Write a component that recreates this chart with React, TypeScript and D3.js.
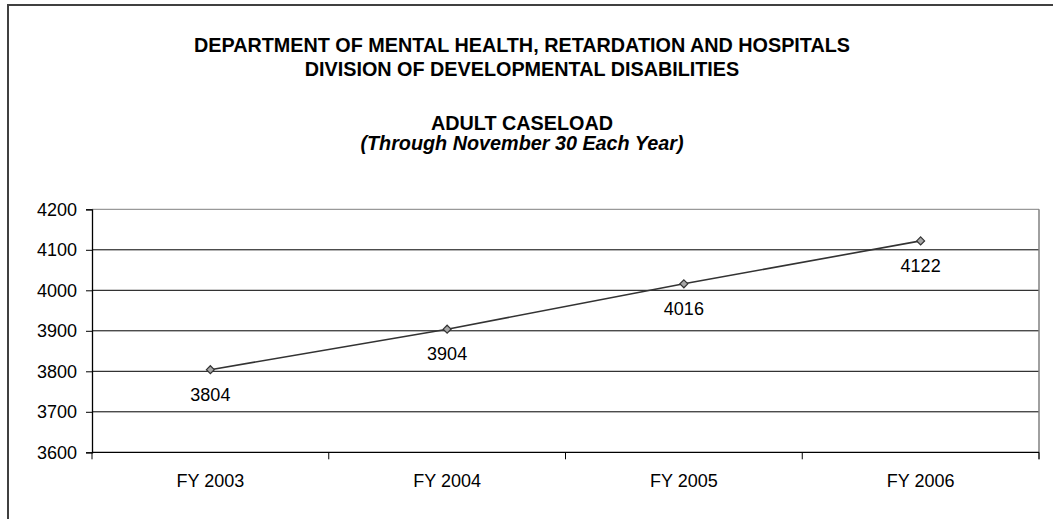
import { useEffect, useRef } from 'react'
import * as d3 from 'd3'

const CATEGORIES = ['FY 2003', 'FY 2004', 'FY 2005', 'FY 2006']
const CASELOAD = [3804, 3904, 4016, 4122]
const Y_TICKS = [3600, 3700, 3800, 3900, 4000, 4100, 4200]

const TITLE_LINES = [
  'DEPARTMENT OF MENTAL HEALTH, RETARDATION AND HOSPITALS',
  'DIVISION OF DEVELOPMENTAL DISABILITIES',
]
const SUBTITLE = 'ADULT CASELOAD'
const SUBTITLE_NOTE = '(Through November 30 Each Year)'

const WIDTH = 1053
const HEIGHT = 519
const FONT = '"Liberation Sans", Arial, sans-serif'

export default function App() {
  const svgRef = useRef<SVGSVGElement>(null)

  useEffect(() => {
    if (!svgRef.current) return
    const svg = d3.select(svgRef.current)
    svg.selectAll('*').remove()

    const plot = { left: 92, right: 1039, top: 209.3, bottom: 452.3 }

    // outer chart frame (right and bottom edges run off the page)
    svg.append('rect')
      .attr('x', 8)
      .attr('y', 5)
      .attr('width', WIDTH + 20)
      .attr('height', HEIGHT + 20)
      .attr('fill', '#fff')
      .attr('stroke', '#404040')
      .attr('stroke-width', 2)

    // titles
    const titleX = 522
    const titleY = [51.5, 76]
    TITLE_LINES.forEach((t, i) => {
      svg.append('text')
        .attr('x', titleX)
        .attr('y', titleY[i])
        .attr('text-anchor', 'middle')
        .attr('font-family', FONT)
        .attr('font-size', 19.8)
        .attr('font-weight', 'bold')
        .attr('fill', '#000')
        .text(t)
    })
    svg.append('text')
      .attr('x', titleX)
      .attr('y', 129.5)
      .attr('text-anchor', 'middle')
      .attr('font-family', FONT)
      .attr('font-size', 19.8)
      .attr('font-weight', 'bold')
      .text(SUBTITLE)
    svg.append('text')
      .attr('x', titleX)
      .attr('y', 150)
      .attr('text-anchor', 'middle')
      .attr('font-family', FONT)
      .attr('font-size', 19.8)
      .attr('font-weight', 'bold')
      .attr('font-style', 'italic')
      .text(SUBTITLE_NOTE)

    const x = d3.scaleBand().domain(CATEGORIES).range([plot.left, plot.right])
    const y = d3.scaleLinear().domain([3600, 4200]).range([plot.bottom, plot.top])

    // gridlines
    svg.append('g')
      .selectAll('line')
      .data(Y_TICKS.slice(1))
      .enter()
      .append('line')
      .attr('x1', plot.left)
      .attr('x2', plot.right)
      .attr('y1', d => y(d))
      .attr('y2', d => y(d))
      .attr('stroke', d => (d === 4200 ? '#808080' : '#000'))
      .attr('stroke-width', 1)

    // right plot border
    svg.append('line')
      .attr('x1', plot.right)
      .attr('x2', plot.right)
      .attr('y1', plot.top)
      .attr('y2', plot.bottom + 7)
      .attr('stroke', '#808080')
      .attr('stroke-width', 1.5)

    // y axis
    const yAxis = d3.axisLeft(y).tickValues(Y_TICKS).tickSize(6).tickPadding(9).tickFormat(d3.format('d'))
    const yg = svg.append('g').attr('transform', `translate(${plot.left},0)`).call(yAxis)
    yg.select('.domain').attr('stroke', '#000').attr('stroke-width', 1.3)
    yg.selectAll('.tick line').attr('stroke', '#000')
    yg.selectAll('.tick text')
      .attr('font-family', FONT)
      .attr('font-size', 18)
      .attr('fill', '#000')

    // x axis with ticks between categories
    const xg = svg.append('g').attr('transform', `translate(0,${plot.bottom})`)
    xg.append('line')
      .attr('x1', plot.left)
      .attr('x2', plot.right)
      .attr('stroke', '#000')
      .attr('stroke-width', 1.3)
    const bounds = CATEGORIES.map(c => x(c) as number).concat([plot.right])
    xg.selectAll('line.tick')
      .data(bounds)
      .enter()
      .append('line')
      .attr('class', 'tick')
      .attr('x1', d => d)
      .attr('x2', d => d)
      .attr('y1', 0)
      .attr('y2', 7)
      .attr('stroke', '#000')
    xg.selectAll('text')
      .data(CATEGORIES)
      .enter()
      .append('text')
      .attr('x', d => (x(d) as number) + x.bandwidth() / 2)
      .attr('y', 35)
      .attr('text-anchor', 'middle')
      .attr('font-family', FONT)
      .attr('font-size', 18)
      .text(d => d)

    const cx = (i: number) => (x(CATEGORIES[i]) as number) + x.bandwidth() / 2

    // series line
    const line = d3.line<number>()
      .x((_, i) => cx(i))
      .y(d => y(d))
    svg.append('path')
      .datum(CASELOAD)
      .attr('d', line)
      .attr('fill', 'none')
      .attr('stroke', '#333')
      .attr('stroke-width', 1.6)

    // diamond markers
    const diamond = d3.symbol().type(d3.symbolDiamond2).size(40)
    svg.append('g')
      .selectAll('path')
      .data(CASELOAD)
      .enter()
      .append('path')
      .attr('d', diamond)
      .attr('transform', (d, i) => `translate(${cx(i)},${y(d)})`)
      .attr('fill', '#a6a6a6')
      .attr('stroke', '#333')
      .attr('stroke-width', 1.2)

    // value labels
    svg.append('g')
      .selectAll('text')
      .data(CASELOAD)
      .enter()
      .append('text')
      .attr('x', (_, i) => cx(i))
      .attr('y', d => y(d) + 31)
      .attr('text-anchor', 'middle')
      .attr('font-family', FONT)
      .attr('font-size', 18)
      .attr('fill', '#000')
      .text(d => d)
  }, [])

  return (
    <svg
      ref={svgRef}
      width={WIDTH}
      height={HEIGHT}
      style={{ position: 'absolute', left: 0, top: 0, background: '#fff' }}
    />
  )
}
